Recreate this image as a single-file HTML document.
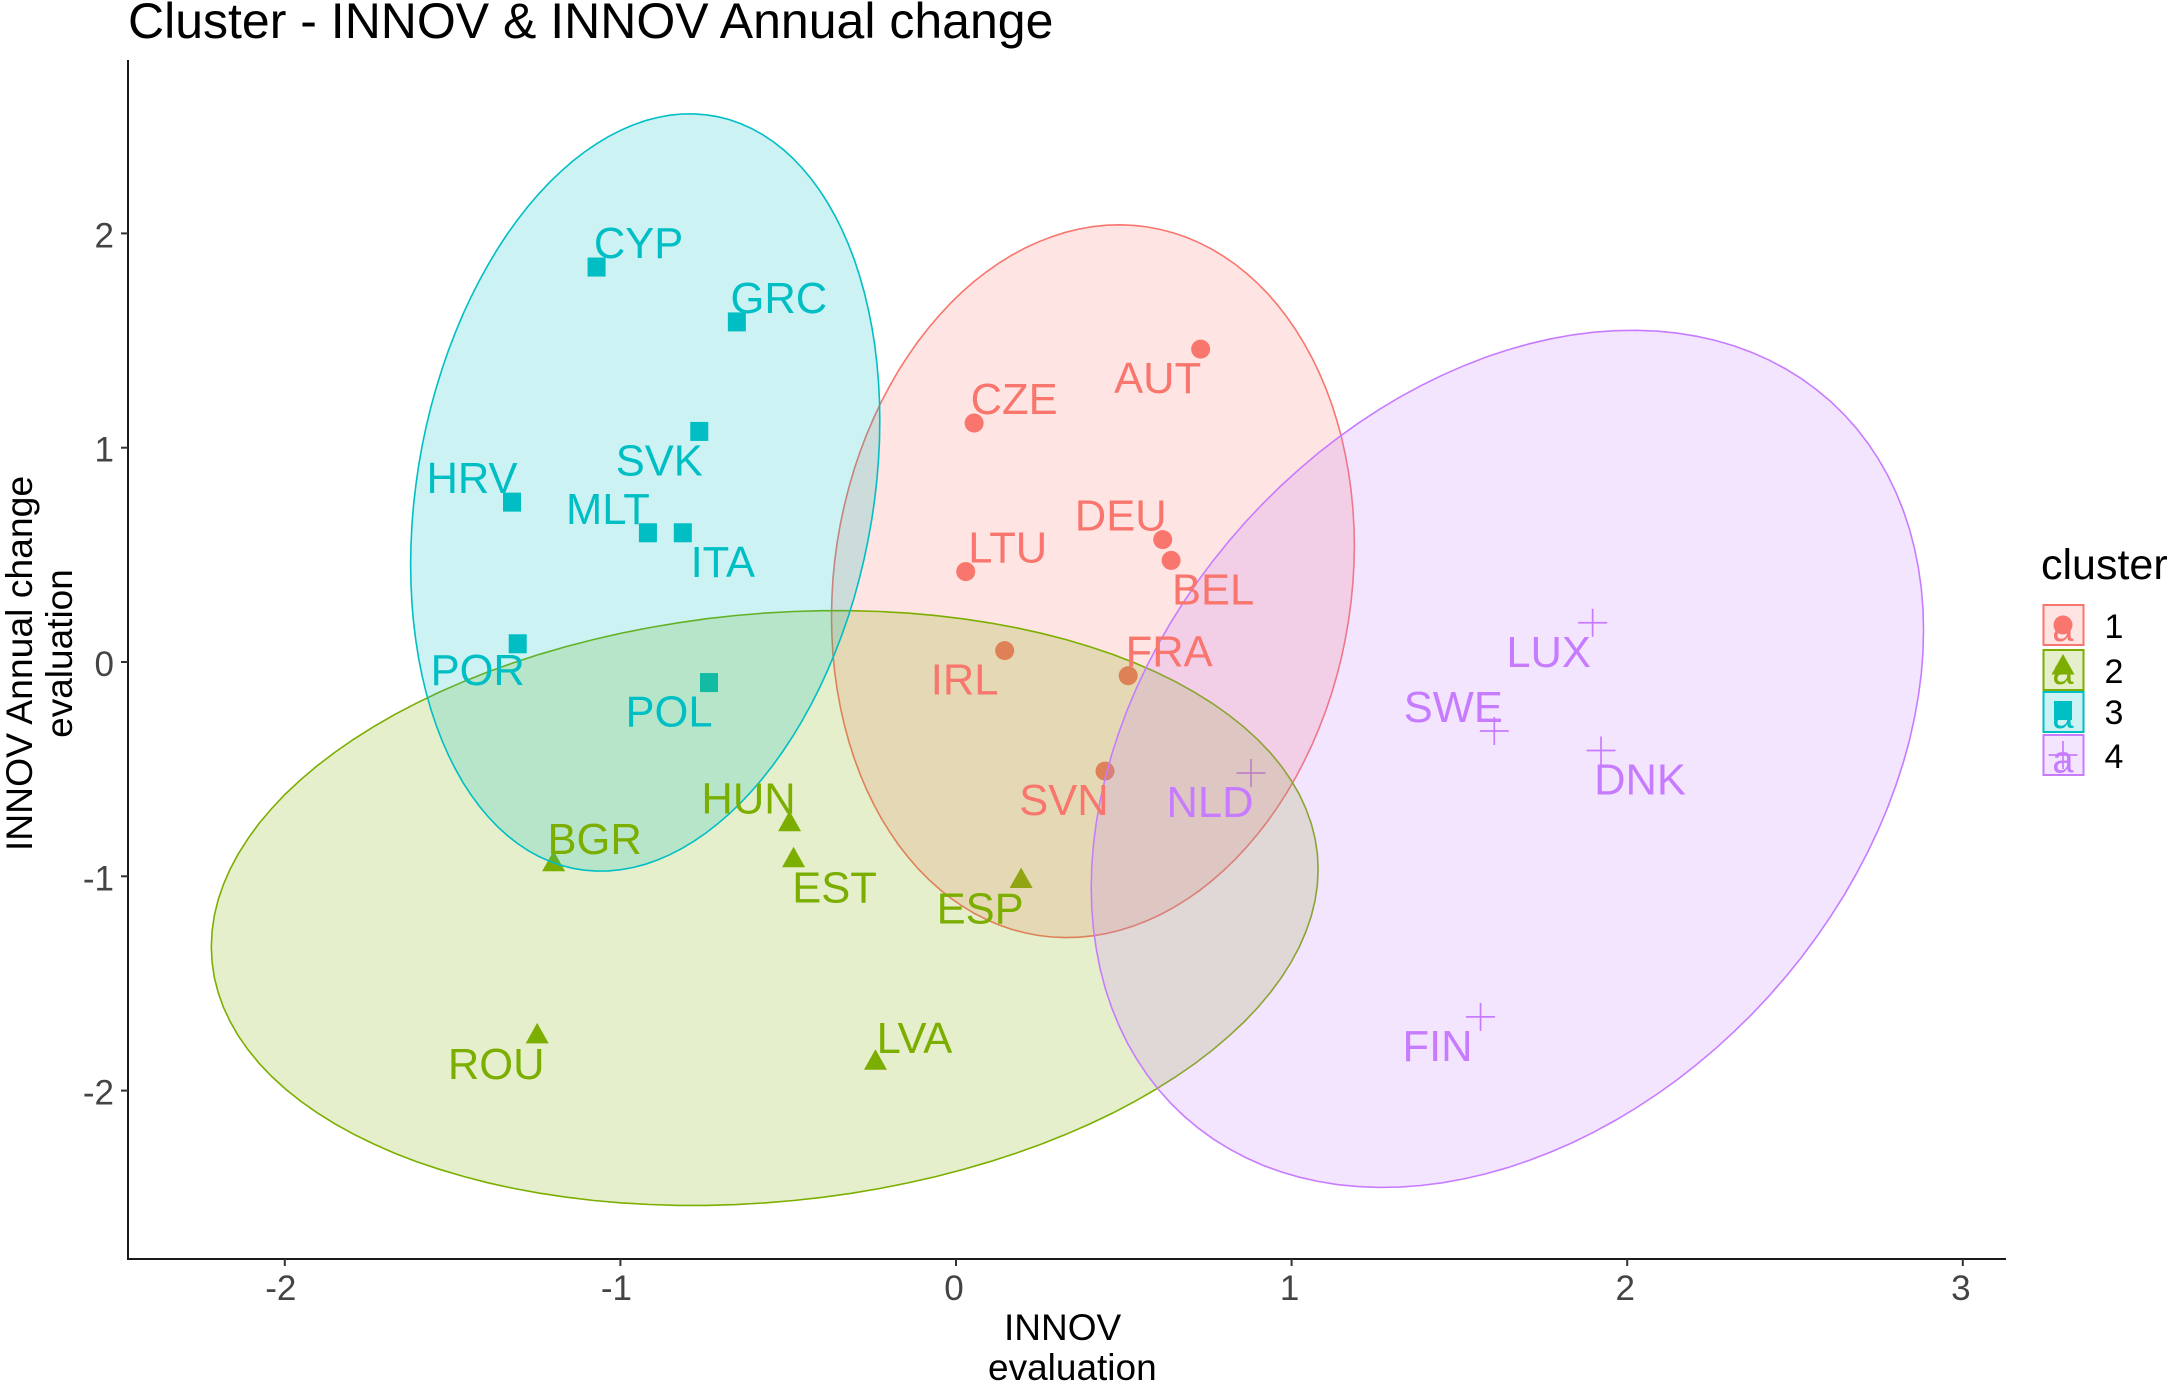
<!DOCTYPE html>
<html>
<head>
<meta charset="utf-8">
<title>Cluster - INNOV &amp; INNOV Annual change</title>
<style>
html,body{margin:0;padding:0;background:#fff;}
svg{display:block;font-family:"Liberation Sans",sans-serif;}
</style>
</head>
<body>
<svg id="chart" xmlns="http://www.w3.org/2000/svg" width="2174" height="1386" viewBox="0 0 2174 1386">
  <rect x="0" y="0" width="2174" height="1386" fill="#ffffff"/>
  <text x="128" y="38" font-size="50" fill="#000">Cluster - INNOV &amp; INNOV Annual change</text>
  <g id="marks"></g>
  <g id="ellipses"></g>
  <g id="labels"></g>
  <line x1="128" y1="60" x2="128" y2="1259" stroke="#1a1a1a" stroke-width="2"/>
  <line x1="127" y1="1259" x2="2006" y2="1259" stroke="#1a1a1a" stroke-width="2"/>
  <g id="axes"></g>
  <text x="1004" y="1340" font-size="37" fill="#000">INNOV</text>
  <text x="988" y="1380" font-size="37" fill="#000">evaluation</text>
  <text transform="translate(32,663.5) rotate(-90)" text-anchor="middle" font-size="37.3" fill="#000">INNOV Annual change</text>
  <text transform="translate(72,653.5) rotate(-90)" text-anchor="middle" font-size="37" fill="#000">evaluation</text>
  <text x="2041" y="579" font-size="43" fill="#000">cluster</text>
  <g id="legend"></g>
</svg>
<script>
var countries = ["CYP","GRC","SVK","HRV","MLT","ITA","POR","POL","AUT","CZE","DEU","BEL","LTU","IRL","FRA","SVN","HUN","EST","BGR","ESP","ROU","LVA","LUX","SWE","DNK","NLD","FIN"];
var clusters = [3,3,3,3,3,3,3,3,1,1,1,1,1,1,1,1,2,2,2,2,2,2,4,4,4,4,4];
var innov = [-1.071,-0.653,-0.765,-1.323,-0.918,-0.814,-1.306,-0.736,0.729,0.054,0.616,0.641,0.029,0.145,0.513,0.444,-0.496,-0.484,-1.199,0.194,-1.248,-0.24,1.897,1.604,1.922,0.879,1.563];
var annualChange = [1.843,1.587,1.076,0.746,0.603,0.603,0.085,-0.096,1.46,1.115,0.571,0.474,0.422,0.053,-0.064,-0.509,-0.75,-0.918,-0.937,-1.015,-1.74,-1.863,0.183,-0.322,-0.413,-0.518,-1.656];
var xTicks = [-2,-1,0,1,2,3];
var yTicks = [-2,-1,0,1,2];
var clusterIds = [1,2,3,4];
var ellipseCx = [0.408,-0.570,-0.926,1.643];
var ellipseCy = [0.377,-1.148,0.791,-0.452];
var ellipseRx = [0.779,1.649,0.699,1.240];
var ellipseRy = [1.663,1.388,1.767,2.0];
var ellipseCorr = [0.1,0.13,0.19,0.30];
var labelOffsetX = [42,42,-40,-40,-40,40,-40,-40,-43,40,-42,42,42,-40,41,-41,-41,41,41,-41,-41,39,-44,-41,39,-41,-43];
var labelOffsetY = [-9,-9,44,-9,-9,44,41,44,44,-9,-9,44,-9,44,-9,44,-9,44,-9,44,44,-8,44,-9,44,44,44];
var colors = {1:"#F8766D",2:"#7CAE00",3:"#00BFC4",4:"#C77CFF"};

var NS = "http://www.w3.org/2000/svg";
function xScale(v){ return 956 + 335.6 * v; }
function yScale(v){ return 662 - 214.3 * v; }
function make(tag, attrs, parent){
  var el = document.createElementNS(NS, tag);
  for (var k in attrs) el.setAttribute(k, attrs[k]);
  parent.appendChild(el);
  return el;
}
function drawMarker(parent, cluster, px, py, name){
  var c = colors[cluster], el;
  if (cluster === 1) {
    el = make("circle", {cx:px, cy:py, r:9.5, fill:c}, parent);
  } else if (cluster === 2) {
    el = make("polygon", {points:(px-11.5)+","+(py+8.5)+" "+(px+11.5)+","+(py+8.5)+" "+px+","+(py-12), fill:c}, parent);
  } else if (cluster === 3) {
    el = make("rect", {x:px-9, y:py-9.5, width:18, height:19, fill:c}, parent);
  } else {
    el = make("path", {d:"M"+(px-14.5)+" "+py+"H"+(px+14.5)+"M"+px+" "+(py-14)+"V"+(py+14), fill:"none", stroke:c, "stroke-width":1.7}, parent);
  }
  
  
}

var marksG = document.getElementById("marks");
var labelsG = document.getElementById("labels");
var ellipsesG = document.getElementById("ellipses");
var axesG = document.getElementById("axes");
var legendG = document.getElementById("legend");

countries.forEach(function(code, i){
  var px = xScale(innov[i]), py = yScale(annualChange[i]);
  drawMarker(marksG, clusters[i], px, py, "point-" + code.toLowerCase());
  var t = make("text", {x:px + labelOffsetX[i], y:py + labelOffsetY[i], "text-anchor":"middle", "font-size":43.5, fill:colors[clusters[i]]}, labelsG);
  t.textContent = code;
  
  
});

clusterIds.forEach(function(id, k){
  var pts = [], steps = 120, s = Math.sqrt(1 - ellipseCorr[k] * ellipseCorr[k]);
  for (var j = 0; j < steps; j++) {
    var a = 2 * Math.PI * j / steps;
    var vx = ellipseCx[k] + ellipseRx[k] * Math.cos(a);
    var vy = ellipseCy[k] + ellipseRy[k] * (ellipseCorr[k] * Math.cos(a) + s * Math.sin(a));
    pts.push(xScale(vx).toFixed(1) + "," + yScale(vy).toFixed(1));
  }
  var p = make("polygon", {points:pts.join(" "), fill:colors[id], "fill-opacity":0.2, stroke:colors[id], "stroke-width":1.6}, ellipsesG);
  
  
});

xTicks.forEach(function(v){
  var px = xScale(v);
  var l = make("line", {x1:px, y1:1259, x2:px, y2:1266, stroke:"#333", "stroke-width":2}, axesG);
  
  
  var t = make("text", {x:px - (v < 0 ? 4 : 2), y:1300, "text-anchor":"middle", "font-size":35, fill:"#444"}, axesG);
  t.textContent = String(v);
  
  
});
yTicks.forEach(function(v){
  var py = yScale(v);
  var l = make("line", {x1:121, y1:py, x2:128, y2:py, stroke:"#333", "stroke-width":2}, axesG);
  
  
  var t = make("text", {x:114, y:py + 14, "text-anchor":"end", "font-size":35, fill:"#444"}, axesG);
  t.textContent = String(v);
  
  
});

var legendTop = [604,649,691,734];
var legendSymbolOffset = [21,17,19.5,21];
var legendLetterOffset = [37,35,37,38.5];
var legendTextY = [638,683,724,768];
clusterIds.forEach(function(id, k){
  var c = colors[id], top = legendTop[k];
  var r = make("rect", {x:2043.5, y:top + 1, width:40, height:40, fill:c, "fill-opacity":0.2, stroke:c, "stroke-width":2}, legendG);
  
  
  var a = make("text", {x:2063, y:top + legendLetterOffset[k], "text-anchor":"middle", "font-size":38, fill:c}, legendG);
  a.textContent = "a";
  
  
  drawMarker(legendG, id, 2063, top + legendSymbolOffset[k], "legend-symbol-" + id);
  var t = make("text", {x:2104.5, y:legendTextY[k], "font-size":34, fill:"#000"}, legendG);
  t.textContent = String(id);
  
  
});
</script>
</body>
</html>
